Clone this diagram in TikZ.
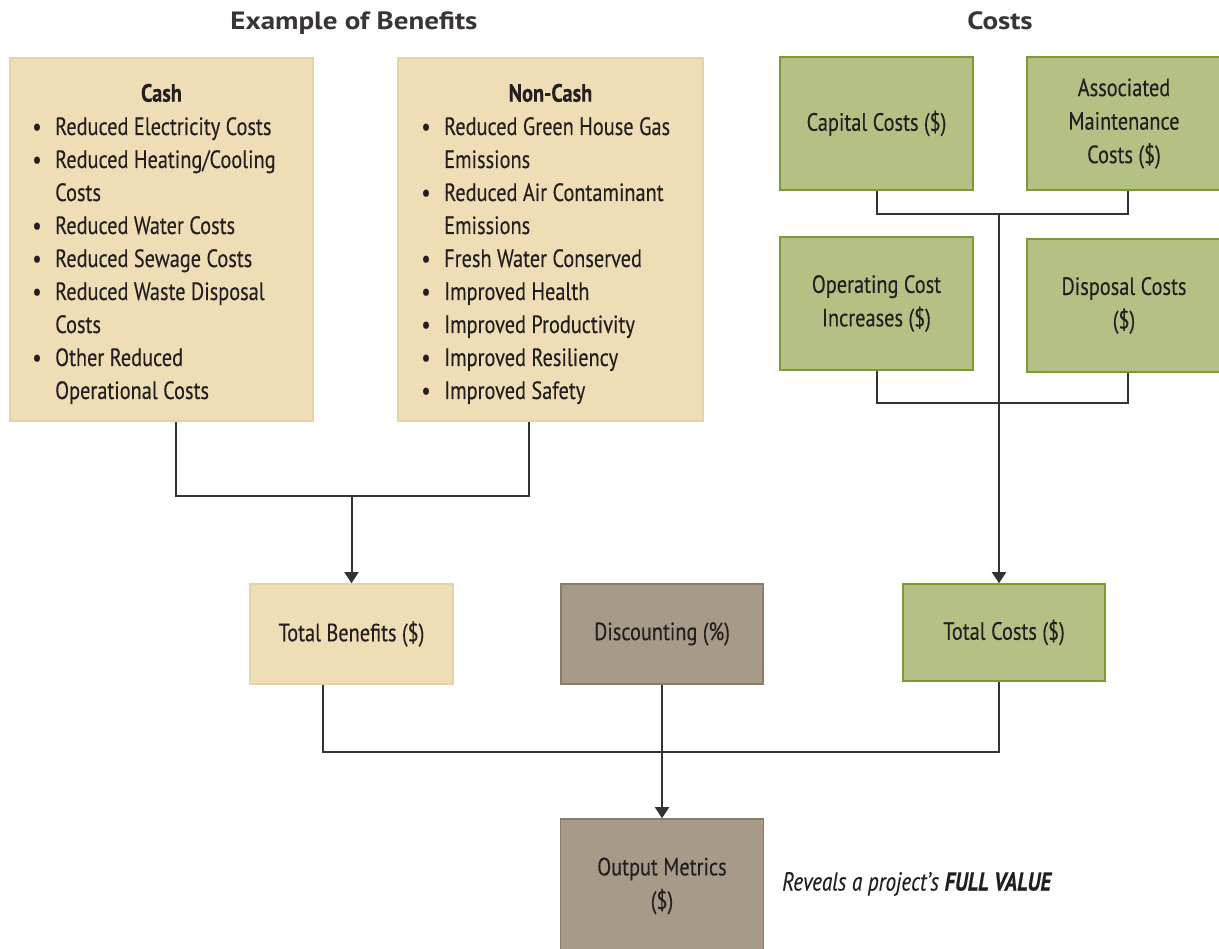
\documentclass[tikz,border=0pt]{standalone}
\usepackage{fontspec}
\setmainfont{PT Sans}[FakeStretch=0.813,FakeBold=0.25]
\newfontfamily\titlefont{PT Sans}[FakeStretch=1.16]
\usetikzlibrary{arrows.meta}
\definecolor{tanfill}{HTML}{EFDDB6}
\definecolor{tanline}{HTML}{E6D3A8}
\definecolor{grnfill}{HTML}{B5C184}
\definecolor{grnline}{HTML}{7E9A36}
\definecolor{brnfill}{HTML}{A89A88}
\definecolor{brnline}{HTML}{8A7C6C}
\definecolor{txt}{HTML}{231F20}
\definecolor{conn}{HTML}{333333}
\newcommand\lfont{\fontsize{25}{33.5}\selectfont}
\newcommand\itm[4]{%
  \node[bul] (#1b) at (#2,#3) {\textbullet};
  \node[lt] (#1) at (#2+18,#3) {#4};}
\newcommand\cnt[4]{\node[lt] (#1) at (#2+18,#3) {#4};}
\begin{document}
\begin{tikzpicture}[x=1pt,y=-1pt,
  box/.style={rectangle, inner sep=0pt, line width=1.6pt, text=txt, font=\lfont, align=center},
  tanbox/.style={box, fill=tanfill, draw=tanline},
  grnbox/.style={box, fill=grnfill, draw=grnline},
  brnbox/.style={box, fill=brnfill, draw=brnline},
  lt/.style={anchor=base west, inner sep=0pt, font=\lfont, text=txt},
  bul/.style={anchor=base, inner sep=0pt, font=\lfont, text=txt},
  hdr/.style={anchor=base, inner sep=0pt, font=\lfont\bfseries, text=txt},
  ttl/.style={anchor=base, inner sep=0pt, font=\titlefont\fontsize{25}{28}\selectfont\bfseries, text=txt!90},
  conn/.style={draw=conn, line width=2pt},
  arr/.style={conn, -{Triangle[width=14pt,length=11pt]}},
]
\useasboundingbox (0,0) rectangle (1219,949);
\fill[white] (0,0) rectangle (1219,949);

% titles
\node[ttl] (t1) at (354,30) {Example of Benefits};
\node[ttl] (t2) at (1000,30) {Costs};

% benefit boxes
\node[tanbox, minimum width=303, minimum height=363] (cash) at (161.5,239.5) {};
\node[tanbox, minimum width=305, minimum height=363] (noncash) at (550.5,239.5) {};

\node[hdr] (cashh) at (161.5,101.7) {Cash};
\itm{c1}{37}{135}{Reduced Electricity Costs}
\itm{c2}{37}{168}{Reduced Heating/Cooling}
\cnt{c3}{37}{201}{Costs}
\itm{c4}{37}{234}{Reduced Water Costs}
\itm{c5}{37}{267}{Reduced Sewage Costs}
\itm{c6}{37}{300}{Reduced Waste Disposal}
\cnt{c7}{37}{333}{Costs}
\itm{c8}{37}{366}{Other Reduced}
\cnt{c9}{37}{399}{Operational Costs}

\node[hdr] (noncashh) at (550.5,101.7) {Non-Cash};
\itm{n1}{426}{135}{Reduced Green House Gas}
\cnt{n2}{426}{168}{Emissions}
\itm{n3}{426}{201}{Reduced Air Contaminant}
\cnt{n4}{426}{234}{Emissions}
\itm{n5}{426}{267}{Fresh Water Conserved}
\itm{n6}{426}{300}{Improved Health}
\itm{n7}{426}{333}{Improved Productivity}
\itm{n8}{426}{366}{Improved Resiliency}
\itm{n9}{426}{399}{Improved Safety}

% cost boxes
\node[grnbox, minimum width=193, minimum height=133] (capital) at (876.5,123.5) {Capital Costs (\$)};
\node[grnbox, minimum width=194, minimum height=133] (assoc) at (1124,123.5) {Associated\\Maintenance\\Costs (\$)};
\node[grnbox, minimum width=193, minimum height=133] (operating) at (876.5,303.5) {Operating Cost\\Increases (\$)};
\node[grnbox, minimum width=194, minimum height=133] (disposal) at (1124,305.5) {Disposal Costs\\(\$)};

% totals
\node[tanbox, minimum width=203, minimum height=100] (totben) at (351.5,634) {Total Benefits (\$)};
\node[brnbox, minimum width=202, minimum height=100] (disc) at (662,634) {Discounting (\%)};
\node[grnbox, minimum width=202, minimum height=97] (totcost) at (1004,632.5) {Total Costs (\$)};
\node[brnbox, minimum width=203, minimum height=134] (output) at (662,886) {Output Metrics\\(\$)};

\node[anchor=west, inner sep=0pt, font=\fontsize{26}{30}\selectfont\itshape, text=txt] (reveals) at (782,884)
  {Reveals a project’s \textbf{FULL VALUE}};

% connectors
\coordinate (jb) at (351.5,496);
\draw[conn] ([xshift=14.5pt]cash.south) |- (jb) -| ([xshift=-21.5pt]noncash.south);
\draw[arr] (jb) -- (totben.north);

\coordinate (jc1) at (999,214);
\coordinate (jc2) at (999,403);
\draw[conn] (capital.south) |- (jc1) -| ([xshift=4pt]assoc.south);
\draw[conn] (operating.south) |- (jc2) -| ([xshift=4pt]disposal.south);
\draw[arr] (jc1) -- (jc1 |- totcost.north);

\coordinate (jo) at (662,752);
\draw[conn] ([xshift=-28.5pt]totben.south) |- (jo) -| ([xshift=-5pt]totcost.south);
\draw[arr] (disc.south) -- (output.north);
\end{tikzpicture}
\end{document}
